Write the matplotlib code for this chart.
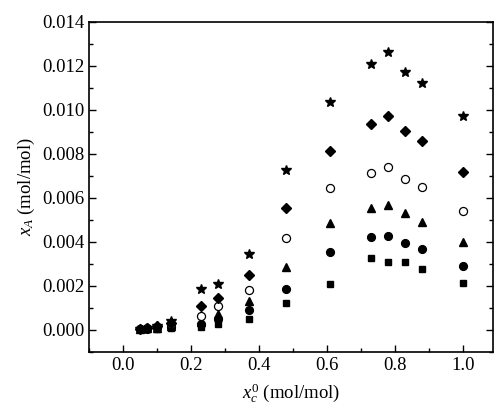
import matplotlib
matplotlib.use("Agg")
import matplotlib.pyplot as plt
from matplotlib.ticker import MultipleLocator, FormatStrFormatter

plt.rcParams['font.family'] = ['Liberation Serif', 'DejaVu Serif']
plt.rcParams['mathtext.fontset'] = 'custom'
plt.rcParams['mathtext.rm'] = 'Liberation Serif'
plt.rcParams['mathtext.it'] = 'Liberation Serif:italic'

x_c0 = [0.05, 0.07, 0.10, 0.14, 0.23, 0.28, 0.37, 0.48, 0.61, 0.73, 0.78, 0.83, 0.88, 1.00]

series_square = [0.00001, 0.00003, 0.00005, 0.00007, 0.00012, 0.00027, 0.00049, 0.00123,
                 0.00207, 0.00325, 0.00310, 0.00310, 0.00277, 0.00214]
series_circle = [0.00002, 0.00005, 0.00008, 0.00012, 0.00027, 0.00050, 0.00091, 0.00183,
                 0.00355, 0.00420, 0.00427, 0.00394, 0.00367, 0.00289]
series_triangle = [0.00003, 0.00006, 0.00010, 0.00018, 0.00035, 0.00073, 0.00130, 0.00285,
                   0.00485, 0.00555, 0.00565, 0.00532, 0.00490, 0.00397]
series_open = [0.00003, 0.00007, 0.00012, 0.00025, 0.00062, 0.00108, 0.00180, 0.00417,
               0.00644, 0.00712, 0.00739, 0.00687, 0.00649, 0.00540]
series_diamond = [0.00004, 0.00008, 0.00015, 0.00032, 0.00108, 0.00146, 0.00248, 0.00551,
                  0.00812, 0.00933, 0.00970, 0.00905, 0.00857, 0.00717]
series_star = [0.00005, 0.00010, 0.00018, 0.00040, 0.00183, 0.00209, 0.00345, 0.00728,
               0.01035, 0.01207, 0.01264, 0.01173, 0.01121, 0.00970]

fig = plt.figure(figsize=(4.98, 4.13), dpi=100)
ax = fig.add_axes([0.1793, 0.1484, 0.8113, 0.7991])

kw = dict(linestyle='none', color='black')
ax.plot(x_c0, series_square, marker='s', markersize=5.0, **kw)
ax.plot(x_c0, series_circle, marker='o', markersize=5.6, **kw)
ax.plot(x_c0, series_triangle, marker='^', markersize=6.3, **kw)
ax.plot(x_c0, series_open, marker='o', markersize=5.8, markerfacecolor='white',
        markeredgecolor='black', markeredgewidth=0.9, linestyle='none')
ax.plot(x_c0, series_diamond, marker='D', markersize=4.6, **kw)
ax.plot(x_c0, series_star, marker='*', markersize=7.0, **kw)

ax.set_xlim(-0.1, 1.09)
ax.set_ylim(-0.001, 0.014)
ax.xaxis.set_major_locator(MultipleLocator(0.2))
ax.xaxis.set_minor_locator(MultipleLocator(0.1))
ax.yaxis.set_major_locator(MultipleLocator(0.002))
ax.yaxis.set_minor_locator(MultipleLocator(0.001))
ax.xaxis.set_major_formatter(FormatStrFormatter('%.1f'))
ax.yaxis.set_major_formatter(FormatStrFormatter('%.3f'))

ax.tick_params(which='both', direction='in', top=False, right=True, labelsize=13.5)
ax.tick_params(which='major', length=5, width=1)
ax.tick_params(which='minor', length=3, width=1)
for s in ax.spines.values():
    s.set_linewidth(1.2)

ax.set_xlabel(r'$x_c^{0}$ (mol/mol)', fontsize=13.5, labelpad=6)
ax.set_ylabel(r'$x_A$ (mol/mol)', fontsize=13.5, labelpad=4)

fig.savefig('out.png', dpi=100)
